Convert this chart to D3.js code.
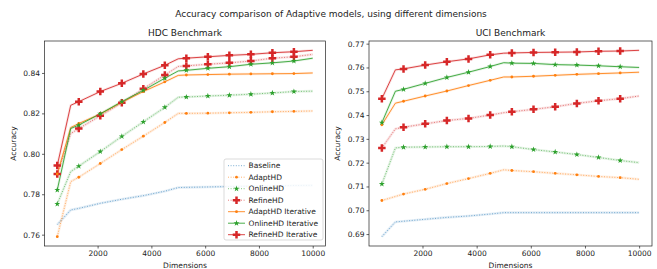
<!DOCTYPE html>
<html>
<head>
<meta charset="utf-8">
<script src="https://cdn.jsdelivr.net/npm/d3@7"></script>
<style>
  body { margin: 0; background: #fff; }
  svg text { font-family: "DejaVu Sans", sans-serif; fill: #222; }
</style>
</head>
<body>
<div id="chart"></div>
<script>
// dimensions used on the x axis (markers only on markerDims)
var dims = [500, 1000, 1300, 2100, 2900, 3700, 4500, 5000, 5300, 6100, 6900, 7700, 8500, 9300, 10000];
var markerDims = [500, 1300, 2100, 2900, 3700, 4500, 5300, 6100, 6900, 7700, 8500, 9300];
var xTicks = [2000, 4000, 6000, 8000, 10000];

// HDC benchmark
var hdcBaseline   = [0.765, 0.7722, 0.7730, 0.7755, 0.7775, 0.7793, 0.7815, 0.7833, 0.7834, 0.7836, 0.7838, 0.7840, 0.7841, 0.7843, 0.7844];
var hdcAdapt      = [0.759, 0.7862, 0.7884, 0.7952, 0.8021, 0.8087, 0.8155, 0.8200, 0.8200, 0.8201, 0.8203, 0.8205, 0.8208, 0.8210, 0.8212];
var hdcOnline     = [0.7752, 0.7912, 0.7939, 0.8011, 0.8086, 0.8158, 0.8230, 0.8280, 0.8281, 0.8286, 0.8290, 0.8295, 0.8301, 0.8308, 0.8310];
var hdcRefine     = [0.790, 0.8100, 0.8125, 0.8188, 0.8252, 0.8322, 0.8390, 0.8432, 0.8435, 0.8443, 0.8450, 0.8459, 0.8473, 0.8480, 0.8492];
var hdcAdaptIt    = [0.790, 0.8130, 0.8150, 0.8197, 0.8255, 0.8308, 0.8356, 0.8388, 0.8390, 0.8392, 0.8394, 0.8395, 0.8396, 0.8397, 0.8400];
var hdcOnlineIt   = [0.7821, 0.8125, 0.8142, 0.8198, 0.8258, 0.8314, 0.8374, 0.8410, 0.8413, 0.8423, 0.8431, 0.8443, 0.8450, 0.8459, 0.8473];
var hdcRefineIt   = [0.7942, 0.8240, 0.8258, 0.8308, 0.8349, 0.8395, 0.8438, 0.8470, 0.8473, 0.8480, 0.8487, 0.8492, 0.8500, 0.8505, 0.8512];
var hdcYTicks = [0.76, 0.78, 0.80, 0.82, 0.84];

// UCI benchmark
var uciBaseline   = [0.6889, 0.6951, 0.6954, 0.6962, 0.6970, 0.6976, 0.6984, 0.6990, 0.6990, 0.6990, 0.6990, 0.6990, 0.6990, 0.6990, 0.6990];
var uciAdapt      = [0.7041, 0.7058, 0.7068, 0.7088, 0.7112, 0.7133, 0.7155, 0.7170, 0.7167, 0.7162, 0.7155, 0.7149, 0.7142, 0.7137, 0.7130];
var uciOnline     = [0.7110, 0.7262, 0.7265, 0.7266, 0.7267, 0.7267, 0.7268, 0.7270, 0.7267, 0.7255, 0.7245, 0.7234, 0.7222, 0.7209, 0.7200];
var uciRefine     = [0.7262, 0.7342, 0.7349, 0.7363, 0.7377, 0.7386, 0.7400, 0.7410, 0.7414, 0.7424, 0.7435, 0.7449, 0.7460, 0.7469, 0.7480];
var uciAdaptIt    = [0.7359, 0.7450, 0.7458, 0.7480, 0.7501, 0.7524, 0.7546, 0.7560, 0.7560, 0.7563, 0.7567, 0.7571, 0.7574, 0.7577, 0.7580];
var uciOnlineIt   = [0.7368, 0.7500, 0.7508, 0.7533, 0.7558, 0.7580, 0.7604, 0.7620, 0.7618, 0.7617, 0.7612, 0.7610, 0.7607, 0.7603, 0.7600];
var uciRefineIt   = [0.7469, 0.7590, 0.7594, 0.7610, 0.7624, 0.7636, 0.7653, 0.7660, 0.7661, 0.7663, 0.7664, 0.7665, 0.7668, 0.7669, 0.7672];
var uciYTicks = [0.69, 0.70, 0.71, 0.72, 0.73, 0.74, 0.75, 0.76, 0.77];

var seriesNames = ["Baseline", "AdaptHD", "OnlineHD", "RefineHD", "AdaptHD Iterative", "OnlineHD Iterative", "RefineHD Iterative"];

// style per series
var styles = [
  {color: "#1f77b4", dotted: true,  marker: null},
  {color: "#ff7f0e", dotted: true,  marker: "dot"},
  {color: "#2ca02c", dotted: true,  marker: "star"},
  {color: "#d62728", dotted: true,  marker: "plus"},
  {color: "#ff7f0e", dotted: false, marker: "dot"},
  {color: "#2ca02c", dotted: false, marker: "star"},
  {color: "#d62728", dotted: false, marker: "plus"}
];

var W = 657, H = 269;
var svg = d3.select("#chart").append("svg")
    .attr("width", W).attr("height", H);

svg.append("text")
    .attr("x", 331).attr("y", 17)
    .attr("text-anchor", "middle")
    .style("font-size", "9px")
    .text("Accuracy comparison of Adaptive models, using different dimensions");

var plusPath = function(s) {
  var a = s / 2, b = s / 6;
  return "M" + (-b) + "," + (-a) + "H" + b + "V" + (-b) + "H" + a + "V" + b + "H" + b +
         "V" + a + "H" + (-b) + "V" + b + "H" + (-a) + "V" + (-b) + "H" + (-b) + "Z";
};

function drawMarker(g, type, color, x, y) {
  if (type === "dot") {
    g.append("circle").attr("cx", x).attr("cy", y).attr("r", 1.4).attr("fill", color);
  } else if (type === "star") {
    g.append("path").attr("d", d3.symbol().type(d3.symbolStar).size(11)())
      .attr("transform", "translate(" + x + "," + y + ")").attr("fill", color);
  } else if (type === "plus") {
    g.append("path").attr("d", plusPath(7.5))
      .attr("transform", "translate(" + x + "," + y + ")").attr("fill", color);
  }
}

function panel(left, right, top, bottom, title, data, yTicks) {
  var all = [].concat.apply([], data);
  var ext = d3.extent(all), pad = (ext[1] - ext[0]) * 0.05;
  var x = d3.scaleLinear().domain([25, 10475]).range([left, right]);
  var y = d3.scaleLinear().domain([ext[0] - pad, ext[1] + pad]).range([bottom, top]);
  var g = svg.append("g");

  g.append("text").attr("x", (left + right) / 2).attr("y", top - 5)
    .attr("text-anchor", "middle").style("font-size", "9px").text(title);

  var clip = "clip" + left;
  g.append("clipPath").attr("id", clip).append("rect")
    .attr("x", left).attr("y", top).attr("width", right - left).attr("height", bottom - top);
  var plot = g.append("g").attr("clip-path", "url(#" + clip + ")");

  var line = d3.line().x(function(d, i) { return x(dims[i]); }).y(function(d) { return y(d); });

  data.forEach(function(vals, k) {
    var st = styles[k];
    // faint band around each line
    plot.append("path").datum(vals).attr("d", line)
      .attr("fill", "none").attr("stroke", st.color).attr("stroke-width", 2.6)
      .attr("stroke-opacity", 0.12);
    plot.append("path").datum(vals).attr("d", line)
      .attr("fill", "none").attr("stroke", st.color)
      .attr("stroke-width", 1)
      .attr("stroke-opacity", st.dotted ? 0.6 : 0.85)
      .attr("stroke-dasharray", st.dotted ? "1,1.6" : null);
  });
  data.forEach(function(vals, k) {
    var st = styles[k];
    if (!st.marker) return;
    vals.forEach(function(v, i) {
      if (markerDims.indexOf(dims[i]) >= 0) drawMarker(plot, st.marker, st.color, x(dims[i]), y(v));
    });
  });

  var xAxis = g.append("g").attr("transform", "translate(0," + bottom + ")")
    .call(d3.axisBottom(x).tickValues(xTicks).tickSize(2.5).tickPadding(2).tickFormat(d3.format("d")));
  var yAxis = g.append("g").attr("transform", "translate(" + left + ",0)")
    .call(d3.axisLeft(y).tickValues(yTicks).tickSize(2.5).tickPadding(2).tickFormat(d3.format(".2f")));
  [xAxis, yAxis].forEach(function(a) {
    a.select(".domain").remove();
    a.selectAll("line").attr("stroke", "#222").attr("stroke-width", 0.7);
    a.selectAll("text").style("font-size", "7.5px").attr("fill", "#222");
  });

  g.append("rect").attr("x", left).attr("y", top)
    .attr("width", right - left).attr("height", bottom - top)
    .attr("fill", "none").attr("stroke", "#222").attr("stroke-width", 0.7);

  g.append("text").attr("x", (left + right) / 2).attr("y", 268)
    .attr("text-anchor", "middle").style("font-size", "7.5px").text("Dimensions");
  g.append("text")
    .attr("transform", "translate(" + (left - 29) + "," + ((top + bottom) / 2) + ") rotate(-90)")
    .attr("text-anchor", "middle").style("font-size", "7.5px").text("Accuracy");
  return g;
}

var hdc = panel(44.5, 325.5, 41, 246, "HDC Benchmark",
  [hdcBaseline, hdcAdapt, hdcOnline, hdcRefine, hdcAdaptIt, hdcOnlineIt, hdcRefineIt], hdcYTicks);
panel(369, 652, 41, 246, "UCI Benchmark",
  [uciBaseline, uciAdapt, uciOnline, uciRefine, uciAdaptIt, uciOnlineIt, uciRefineIt], uciYTicks);

// legend in the HDC panel
var leg = svg.append("g");
leg.append("rect").attr("x", 224).attr("y", 159).attr("width", 99).attr("height", 81)
  .attr("rx", 2).attr("fill", "#fff").attr("fill-opacity", 0.85)
  .attr("stroke", "#ccc").attr("stroke-width", 0.7);
seriesNames.forEach(function(name, k) {
  var st = styles[k], cy = 165.7 + k * 11.5;
  leg.append("line").attr("x1", 228).attr("x2", 245).attr("y1", cy).attr("y2", cy)
    .attr("stroke", st.color).attr("stroke-width", 1)
    .attr("stroke-opacity", st.dotted ? 0.6 : 0.85)
    .attr("stroke-dasharray", st.dotted ? "1,1.6" : null);
  if (st.marker) drawMarker(leg, st.marker, st.color, 236.5, cy);
  leg.append("text").attr("x", 248.5).attr("y", cy + 2.7)
    .attr("text-anchor", "start")
    .style("font-size", "7.5px").text(name);
});
</script>
</body>
</html>
